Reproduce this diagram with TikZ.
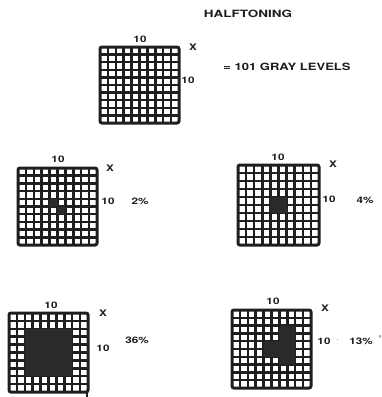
\documentclass[tikz,border=0pt]{standalone}
\usepackage{fontspec}
\setmainfont{TeX Gyre Heros}
\usepackage{graphicx}
\definecolor{inkc}{HTML}{1E1E1E}
\definecolor{fillc}{HTML}{2A2A2A}
\newcommand\hw[2][1.3]{\scalebox{#1}[1]{#2}}
\newcommand\gridlines{%
  \foreach \i in {1,...,9} {\draw[gridln] (\i,0) -- (\i,10); \draw[gridln] (0,\i) -- (10,\i);}
  \draw[gridbox] (0,0) rectangle (10,10);}
\tikzset{
  gridat/.style n args={4}{shift={(#1,#2)},xscale={(#3-#1)/10},yscale={(#4-#2)/10}},
  gridln/.style={draw=inkc, line width=2.5pt},
  gridbox/.style={draw=inkc, line width=3pt, rounded corners=2pt},
  dark/.style={fill=fillc},
  lab/.style={font=\bfseries\fontsize{9}{9}\selectfont, text=inkc, inner sep=0pt},
  big/.style={font=\bfseries\fontsize{10}{10}\selectfont, text=inkc, inner sep=0pt}
}
\begin{document}
\begin{tikzpicture}[x=1pt,y=-1pt]
\useasboundingbox[fill=white] (0,0) rectangle (382,397);
% title
\node[big] (title) at (248,14) {\hw[1.35]{HALFTONING}};
% grid 1
\begin{scope}[gridat={100}{47}{179}{123}] \gridlines \end{scope}
\node[lab] (g1top) at (140,39) {\hw{10}};
\node[lab] (g1x) at (193,47) {\hw{X}};
\node[lab] (g1r) at (188,80) {\hw{10}};
\node[big] (gray) at (287,67) {\hw[1.3]{= 101 GRAY LEVELS}};
% grid 2
\begin{scope}[gridat={18}{168}{97}{245}]
  \gridlines
  \fill[dark] (4,4) rectangle ++(1,1) (5,5) rectangle ++(1,1);
\end{scope}
\node[lab] (g2top) at (58,159) {\hw{10}};
\node[lab] (g2x) at (110,168) {\hw{X}};
\node[lab] (g2r) at (108,201) {\hw{10}};
\node[lab] (g2p) at (140,201) {\hw{2\%}};
% grid 3
\begin{scope}[gridat={238}{165}{319}{245}]
  \gridlines
  \fill[dark] (4,4) rectangle ++(2,2);
\end{scope}
\node[lab] (g3top) at (278,157) {\hw{10}};
\node[lab] (g3x) at (333,164) {\hw{X}};
\node[lab] (g3r) at (329,199) {\hw{10}};
\node[lab] (g3p) at (365,200) {\hw{4\%}};
% grid 4
\begin{scope}[gridat={9}{313}{88}{392}]
  \gridlines
  \fill[dark] (2,2) rectangle ++(6,6);
\end{scope}
\coordinate (g4a) at (87,392);
\coordinate (g4b) at (87,397);
\draw[gridln] (g4a) -- (g4b);
\node[lab] (g4top) at (51,305) {\hw{10}};
\node[lab] (g4x) at (103,313) {\hw{X}};
\node[lab] (g4r) at (103,348) {\hw{10}};
\node[lab] (g4p) at (137,340) {\hw{36\%}};
% grid 5
\begin{scope}[gridat={232}{310}{311}{388}]
  \gridlines
  \fill[dark] (6,2) rectangle (8,7) (4,4) rectangle (6,6);
\end{scope}
\node[lab] (g5top) at (273,301) {\hw{10}};
\node[lab] (g5x) at (325,308) {\hw{X}};
\node[lab] (g5r) at (324,341) {\hw{10}};
\node[lab] (g5dot) at (338,340) {$\cdot$};
\node[lab] (g5p) at (361,341) {\hw{13\%}};
\node[lab] (g5t) at (380,339) {'};
\end{tikzpicture}
\end{document}
